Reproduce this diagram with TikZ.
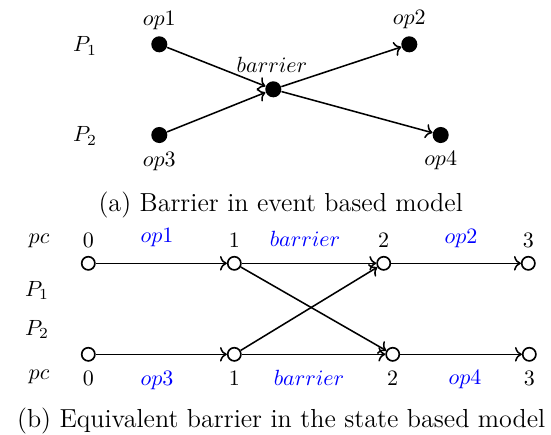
\documentclass[tikz,border=0pt]{standalone}
\usetikzlibrary{arrows.meta}
\begin{document}
\begin{tikzpicture}[x=0.4545pt,y=-0.4545pt,
  event/.style={circle,fill=black,inner sep=0pt,minimum size=7.3pt},
  state/.style={circle,draw=black,fill=white,line width=0.75pt,inner sep=0pt,minimum size=6pt},
  flow/.style={->,line width=0.7pt},
  lbl/.style={anchor=base,inner sep=0pt},
  oplbl/.style={lbl,text=blue},
  caption/.style={anchor=base,inner sep=0pt,font=\fontsize{11.85}{14}\selectfont}]
\useasboundingbox (0,0) rectangle (551,434);

% ---- (a) event based model ----
\node[event] (e1) at (159.3,44.3) {};
\node[event] (e2) at (409.3,44.3) {};
\node[event] (eb) at (273.3,89.3) {};
\node[event] (e3) at (159.3,135) {};
\node[event] (e4) at (440.7,135) {};

\node[lbl] (le1) at (159.3,25) {$op1$};
\node[lbl] (le2) at (409.3,24) {$op2$};
\node[lbl] (leb) at (272,72.7) {$barrier$};
\node[lbl] (le3) at (159.3,166) {$op3$};
\node[lbl] (le4) at (440.7,165) {$op4$};
\node[lbl] (lp1) at (85,51.7) {$P_1$};
\node[lbl] (lp2) at (85,141.7) {$P_2$};

\draw[flow] (e1) -- (eb);
\draw[flow] (e3) -- (eb);
\draw[flow] (eb) -- (e2);
\draw[flow] (eb) -- (e4);

\node[caption] (capa) at (280.7,211) {(a) Barrier in event based model};

% ---- (b) state based model ----
\node[state] (t0) at (88.3,263.3) {};
\node[state] (t1) at (234.3,263.3) {};
\node[state] (t2) at (383.7,263.3) {};
\node[state] (t3) at (528.3,263.3) {};
\node[state] (b0) at (88.3,354.3) {};
\node[state] (b1) at (234.3,354.3) {};
\node[state] (b2) at (392.7,354.3) {};
\node[state] (b3) at (529.3,354.3) {};

\draw[flow] (t0) -- (t1);
\draw[flow] (t1) -- (t2);
\draw[flow] (t2) -- (t3);
\draw[flow] (b0) -- (b1);
\draw[flow] (b1) -- (b2);
\draw[flow] (b2) -- (b3);
\draw[flow] (t1) -- (b2);
\draw[flow] (b1) -- (t2);

% program counters and labels, upper process
\node[lbl] (pct) at (39,243.3) {$pc$};
\node[lbl] (nt0) at (88.3,247.3) {$0$};
\node[lbl] (nt1) at (234.3,247.3) {$1$};
\node[lbl] (nt2) at (383.7,247.3) {$2$};
\node[lbl] (nt3) at (528.3,247.3) {$3$};
\node[oplbl] (ot1) at (157,242.7) {$op1$};
\node[oplbl] (otb) at (305,246.7) {$barrier$};
\node[oplbl] (ot2) at (461,243.3) {$op2$};

\node[lbl] (sp1) at (37,296) {$P_1$};
\node[lbl] (sp2) at (37,335) {$P_2$};

% program counters and labels, lower process
\node[lbl] (pcb) at (39,379.3) {$pc$};
\node[lbl] (nb0) at (88.3,385) {$0$};
\node[lbl] (nb1) at (234.3,385) {$1$};
\node[lbl] (nb2) at (392.7,385) {$2$};
\node[lbl] (nb3) at (529.3,385) {$3$};
\node[oplbl] (ob1) at (157,385) {$op3$};
\node[oplbl] (obb) at (309,385) {$barrier$};
\node[oplbl] (ob2) at (465,384.3) {$op4$};

\node[caption] (capb) at (281.2,427.3) {(b) Equivalent barrier in the state based model};
\end{tikzpicture}
\end{document}
